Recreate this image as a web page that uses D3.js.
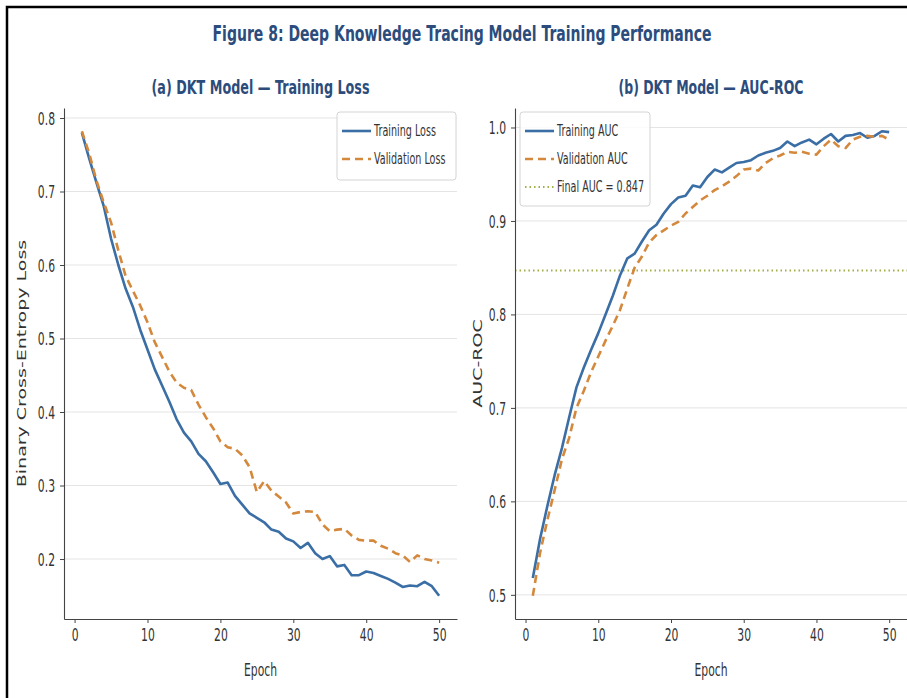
<!DOCTYPE html>
<html>
<head>
<meta charset="utf-8">
<script src="https://cdn.jsdelivr.net/npm/d3@7"></script>
<style>
  body { margin: 0; background: #fff; }
  text { font-family: "DejaVu Sans", sans-serif; }
</style>
</head>
<body>
<svg id="chart" width="907" height="698"></svg>
<script>
// data
var epochs = d3.range(1, 51);

var trainLoss = [0.780, 0.745, 0.712, 0.680, 0.636, 0.600, 0.568, 0.543, 0.512, 0.485,
                 0.458, 0.436, 0.414, 0.390, 0.372, 0.360, 0.343, 0.333, 0.318, 0.302,
                 0.304, 0.286, 0.274, 0.262, 0.256, 0.250, 0.240, 0.237, 0.228, 0.224,
                 0.215, 0.222, 0.208, 0.200, 0.204, 0.190, 0.192, 0.178, 0.178, 0.183,
                 0.181, 0.177, 0.173, 0.168, 0.162, 0.164, 0.163, 0.169, 0.163, 0.150];

var valLoss = [0.782, 0.752, 0.715, 0.685, 0.658, 0.620, 0.585, 0.565, 0.545, 0.522,
               0.495, 0.475, 0.455, 0.440, 0.433, 0.430, 0.410, 0.393, 0.378, 0.360,
               0.352, 0.350, 0.341, 0.325, 0.291, 0.306, 0.293, 0.285, 0.277, 0.262,
               0.264, 0.265, 0.264, 0.247, 0.238, 0.240, 0.241, 0.232, 0.226, 0.225,
               0.225, 0.218, 0.214, 0.208, 0.205, 0.196, 0.205, 0.200, 0.198, 0.195];

var trainAuc = [0.518, 0.560, 0.595, 0.628, 0.657, 0.690, 0.722, 0.743, 0.762, 0.780,
                0.800, 0.820, 0.842, 0.860, 0.865, 0.878, 0.890, 0.896, 0.908, 0.918,
                0.925, 0.927, 0.938, 0.936, 0.947, 0.955, 0.952, 0.957, 0.962, 0.963,
                0.965, 0.970, 0.973, 0.975, 0.978, 0.985, 0.980, 0.984, 0.987, 0.982,
                0.988, 0.993, 0.985, 0.991, 0.992, 0.994, 0.989, 0.991, 0.996, 0.995];

var valAuc = [0.499, 0.545, 0.580, 0.612, 0.645, 0.668, 0.700, 0.718, 0.738, 0.755,
              0.772, 0.788, 0.805, 0.828, 0.850, 0.862, 0.877, 0.885, 0.890, 0.895,
              0.899, 0.908, 0.915, 0.922, 0.927, 0.933, 0.937, 0.942, 0.948, 0.955,
              0.956, 0.954, 0.962, 0.967, 0.970, 0.974, 0.973, 0.974, 0.972, 0.971,
              0.980, 0.987, 0.980, 0.978, 0.987, 0.990, 0.991, 0.990, 0.991, 0.987];

var finalAuc = 0.847;

var xTicks = [0, 10, 20, 30, 40, 50];
var lossTicks = [0.2, 0.3, 0.4, 0.5, 0.6, 0.7, 0.8];
var aucTicks = [0.5, 0.6, 0.7, 0.8, 0.9, 1.0];

var SX = 0.6;           // the reference text is squeezed horizontally
var TOP = 108, BOTTOM = 619;
var BLUE = '#3a6ea5', ORANGE = '#d4883c', GREEN = '#a3b04a', TITLE = '#2c4c7c';

var svg = d3.select('#chart');
svg.append('rect').attr('width', 907).attr('height', 698).attr('fill', '#fff');
svg.append('path')
    .attr('d', 'M7,698V7H907')
    .attr('fill', 'none')
    .attr('stroke', '#000')
    .attr('stroke-width', 2.5);

function squeezedText(parent, x, y, txt, size, opts) {
    opts = opts || {};
    var g = parent.append('g')
        .attr('transform', 'translate(' + x + ',' + y + ') scale(' + SX + ',1)' + (opts.rotate ? ' rotate(-90)' : ''));
    var t = g.append('text')
        .attr('text-anchor', opts.anchor || 'middle')
        .attr('font-size', size)
        .attr('font-weight', opts.bold ? 'bold' : 'normal')
        .attr('fill', opts.color || '#333')
        .text(txt);
    if (opts.width) {
        t.attr('textLength', opts.width / SX).attr('lengthAdjust', 'spacingAndGlyphs');
    }
    return t;
}

function panel(cfg) {
    var g = svg.append('g');
    var x = d3.scaleLinear().domain([-1.45, 52.45]).range([cfg.left, cfg.right]);
    var all = cfg.series.reduce(function(a, s) { return a.concat(s.values); }, []);
    var lo = d3.min(all), hi = d3.max(all), pad = (hi - lo) * 0.05;
    var y = d3.scaleLinear().domain([lo - pad, hi + pad]).range([BOTTOM, TOP]);

    // horizontal grid
    g.append('g').selectAll('line')
        .data(cfg.yTicks)
        .enter().append('line')
        .attr('x1', cfg.left).attr('x2', cfg.right)
        .attr('y1', function(d) { return y(d); })
        .attr('y2', function(d) { return y(d); })
        .attr('stroke', '#e4e4e4')
        .attr('stroke-width', 1);

    if (cfg.hline) {
        g.append('line')
            .attr('x1', cfg.left).attr('x2', cfg.right)
            .attr('y1', y(cfg.hline.value)).attr('y2', y(cfg.hline.value))
            .attr('stroke', cfg.hline.color)
            .attr('stroke-width', 1.8)
            .attr('stroke-dasharray', '1.5,3');
    }

    var line = d3.line()
        .x(function(d, i) { return x(epochs[i]); })
        .y(function(d) { return y(d); });

    cfg.series.forEach(function(s) {
        g.append('path')
            .datum(s.values)
            .attr('d', line)
            .attr('fill', 'none')
            .attr('stroke', s.color)
            .attr('stroke-width', 2.6)
            .attr('stroke-linejoin', 'round')
            .attr('stroke-dasharray', s.dash || null);
    });

    // axes
    var yAxis = g.append('g')
        .attr('transform', 'translate(' + cfg.left + ',0)')
        .call(d3.axisLeft(y).tickValues(cfg.yTicks).tickSize(4).tickSizeOuter(0).tickFormat(d3.format('.1f')));
    var xAxis = g.append('g')
        .attr('transform', 'translate(0,' + BOTTOM + ')')
        .call(d3.axisBottom(x).tickValues(xTicks).tickSize(4).tickSizeOuter(0));

    [yAxis, xAxis].forEach(function(ax) {
        ax.select('.domain').attr('stroke', '#444').attr('stroke-width', 1.1);
        ax.selectAll('.tick line').attr('stroke', '#444');
        ax.selectAll('.tick text')
            .attr('font-family', '"DejaVu Sans", sans-serif')
            .attr('font-size', 18)
            .attr('fill', '#333');
    });
    yAxis.selectAll('.tick text')
        .attr('x', -9 / SX)
        .attr('dy', '0.36em')
        .attr('transform', 'scale(' + SX + ',1)');
    xAxis.selectAll('.tick text')
        .attr('y', 9)
        .attr('transform', 'scale(' + SX + ',1)');

    var mid = (cfg.left + cfg.right) / 2;
    squeezedText(g, mid, 94, cfg.title, 19, { bold: true, color: TITLE, width: cfg.titleWidth });
    squeezedText(g, mid, 676, 'Epoch', 18);
    squeezedText(g, cfg.ylabelX, (TOP + BOTTOM) / 2, cfg.ylabel, 19, { rotate: true })
        .attr('dominant-baseline', 'central');

    // legend
    var L = cfg.legend;
    var lg = g.append('g').attr('transform', 'translate(' + L.x + ',' + L.y + ')');
    lg.append('rect')
        .attr('width', L.w).attr('height', L.h)
        .attr('rx', 3)
        .attr('fill', '#fff').attr('fill-opacity', 0.85)
        .attr('stroke', '#d4d4d4');
    L.items.forEach(function(it, i) {
        var yy = 19 + i * 28;
        lg.append('line')
            .attr('x1', 5).attr('x2', 34)
            .attr('y1', yy).attr('y2', yy)
            .attr('stroke', it.color)
            .attr('stroke-width', it.dash === '1.5,3' ? 1.8 : 2.6)
            .attr('stroke-dasharray', it.dash || null);
        squeezedText(lg, 37, yy + 5, it.label, 16, { anchor: 'start' });
    });
}

squeezedText(svg, 462, 41, 'Figure 8: Deep Knowledge Tracing Model Training Performance', 21,
    { bold: true, color: TITLE, width: 499 });

panel({
    left: 64, right: 457,
    title: '(a) DKT Model \u2014 Training Loss', titleWidth: 218,
    ylabel: 'Binary Cross-Entropy Loss', ylabelX: 22,
    yTicks: lossTicks,
    series: [
        { values: trainLoss, color: BLUE },
        { values: valLoss, color: ORANGE, dash: '8,5' }
    ],
    legend: {
        x: 337, y: 112, w: 119, h: 68,
        items: [
            { label: 'Training Loss', color: BLUE },
            { label: 'Validation Loss', color: ORANGE, dash: '8,5' }
        ]
    }
});

panel({
    left: 515, right: 907,
    title: '(b) DKT Model \u2014 AUC-ROC', titleWidth: 185,
    ylabel: 'AUC-ROC', ylabelX: 478,
    yTicks: aucTicks,
    hline: { value: finalAuc, color: GREEN },
    series: [
        { values: trainAuc, color: BLUE },
        { values: valAuc, color: ORANGE, dash: '8,5' }
    ],
    legend: {
        x: 520, y: 112, w: 130, h: 94,
        items: [
            { label: 'Training AUC', color: BLUE },
            { label: 'Validation AUC', color: ORANGE, dash: '8,5' },
            { label: 'Final AUC = ' + finalAuc.toFixed(3), color: GREEN, dash: '1.5,3' }
        ]
    }
});
</script>
</body>
</html>
